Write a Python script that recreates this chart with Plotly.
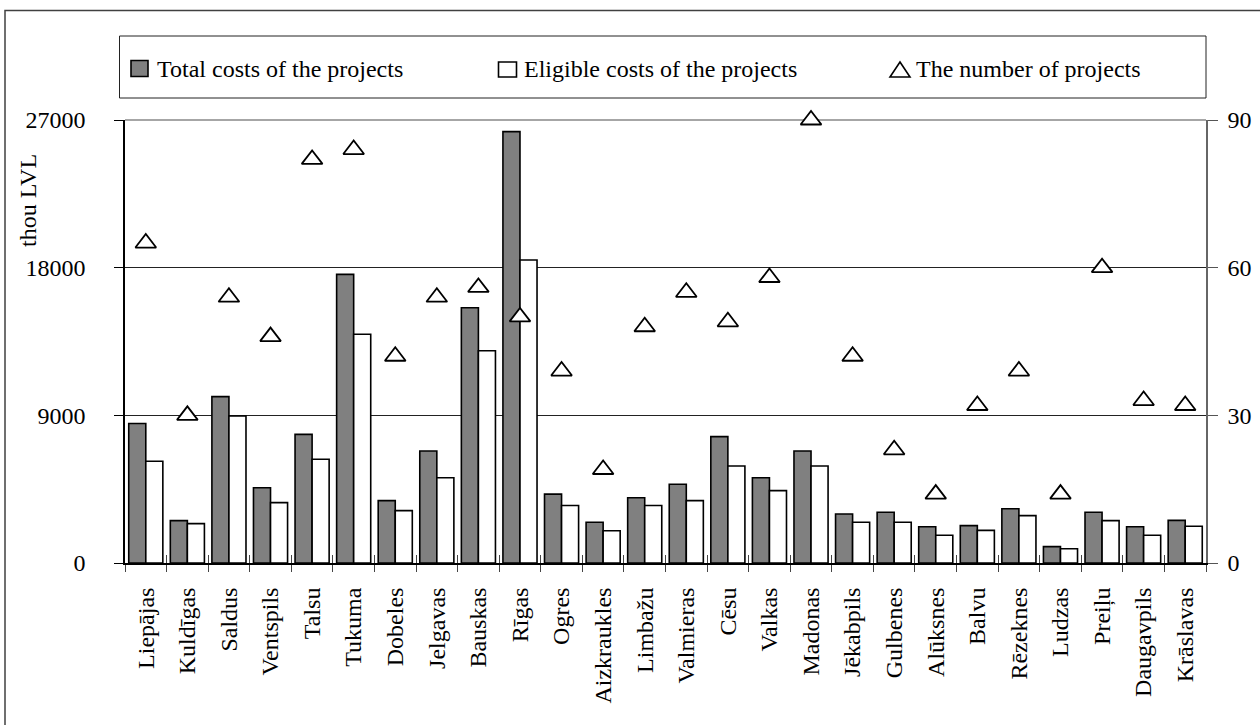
import plotly.graph_objects as go

# Districts (regions of Latvia)
districts = ["Liepājas", "Kuldīgas", "Saldus", "Ventspils", "Talsu", "Tukuma", "Dobeles",
             "Jelgavas", "Bauskas", "Rīgas", "Ogres", "Aizkraukles", "Limbažu", "Valmieras",
             "Cēsu", "Valkas", "Madonas", "Jēkabpils", "Gulbenes", "Alūksnes", "Balvu",
             "Rēzeknes", "Ludzas", "Preiļu", "Daugavpils", "Krāslavas"]

# thou LVL
total_costs = [8500, 2580, 10140, 4590, 7840, 17590, 3800, 6830, 15560, 26290, 4200, 2480, 3980,
               4800, 7700, 5200, 6830, 2990, 3090, 2210, 2280, 3310, 1000, 3090, 2210, 2600]
eligible_costs = [6200, 2400, 8960, 3680, 6320, 13940, 3190, 5200, 12940, 18470, 3500, 1970, 3500,
                  3800, 5910, 4410, 5910, 2480, 2480, 1690, 1990, 2890, 870, 2580, 1690, 2240]
# number of projects (right axis)
n_projects = [65, 30, 54, 46, 82, 84, 42, 54, 56, 50, 39, 19, 48, 55, 49, 58, 90, 42, 23, 14, 32,
              39, 14, 60, 33, 32]

left_ticks = [0, 9000, 18000, 27000]
right_ticks = [0, 30, 60, 90]

FONT = "Liberation Serif"
FS = 24
W, H = 1260, 725
L, R, T, B = 125, 1206, 120, 563


def px(x):
    return (x - L) / (R - L)


def py(y):
    return (B - y) / (B - T)


fig = go.Figure()
fig.add_trace(go.Bar(x=districts, y=total_costs, name="Total costs of the projects",
                     marker=dict(color="#808080", line=dict(color="black", width=1.6))))
fig.add_trace(go.Bar(x=districts, y=eligible_costs, name="Eligible costs of the projects",
                     marker=dict(color="white", line=dict(color="black", width=1.6))))
fig.add_trace(go.Scatter(x=districts, y=n_projects, yaxis="y2", mode="markers",
                         name="The number of projects", cliponaxis=False,
                         marker=dict(symbol="triangle-up", size=18, color="white",
                                     line=dict(color="black", width=1.8))))
# helper trace so the boundary tick axis is drawn
fig.add_trace(go.Scatter(x=[None], y=[None], xaxis="x2", showlegend=False, hoverinfo="skip"))

n = len(districts)
fig.update_layout(
    width=W, height=H,
    margin=dict(l=L, r=W - R, t=T, b=H - B, autoexpand=False),
    paper_bgcolor="white", plot_bgcolor="white",
    font=dict(family=FONT, size=FS, color="black"),
    barmode="group", bargap=0.18, bargroupgap=0,
    showlegend=False,
    xaxis=dict(type="category", range=[-0.5, n - 0.5], tickangle=-90, ticks="outside",
               tickson="boundaries", ticklen=7, tickcolor="#444", showline=True,
               linecolor="black", linewidth=2, showgrid=False, ticklabelstandoff=13,
               tickfont=dict(size=FS), automargin=False),
    xaxis2=dict(overlaying="x", anchor="y", range=[-0.5, n - 0.5],
                tickvals=[i - 0.5 for i in range(n + 1)], ticks="inside", ticklen=8,
                tickcolor="#444", showticklabels=False, showgrid=False, zeroline=False,
                showline=False, automargin=False),
    yaxis=dict(range=[0, 27000], tickvals=left_ticks, tickformat="d", ticks="outside",
               ticklen=9, tickcolor="black", showline=True, linecolor="black", linewidth=1.5,
               showgrid=True, gridcolor="#222", gridwidth=1, zeroline=False,
               ticklabelstandoff=24, tickfont=dict(size=FS), automargin=False),
    yaxis2=dict(overlaying="y", side="right", range=[0, 90], tickvals=right_ticks,
                ticks="outside", ticklen=10, tickcolor="#555", showline=True,
                linecolor="#666", linewidth=1.5, showgrid=False, zeroline=False,
                ticklabelstandoff=5, tickfont=dict(size=FS), automargin=False),
)

shapes = []
# outer frame
shapes.append(dict(type="rect", xref="paper", yref="paper", x0=px(5), x1=px(1264),
                   y0=py(729), y1=py(10.5), line=dict(color="#404040", width=1.5)))
# top edge of the plot area
shapes.append(dict(type="line", xref="paper", yref="paper", x0=0, x1=1, y0=1, y1=1,
                   line=dict(color="#888", width=1.5), layer="below"))
# legend box
shapes.append(dict(type="rect", xref="paper", yref="paper", x0=px(119.5), x1=px(1206),
                   y0=py(98), y1=py(36), line=dict(color="#222", width=1)))
# legend symbols
shapes.append(dict(type="rect", xref="paper", yref="paper", x0=px(131), x1=px(148),
                   y0=py(76.5), y1=py(60.5), fillcolor="#808080",
                   line=dict(color="black", width=1.6)))
shapes.append(dict(type="rect", xref="paper", yref="paper", x0=px(498.5), x1=px(516.5),
                   y0=py(77), y1=py(62), fillcolor="white",
                   line=dict(color="black", width=1.6)))
tri = "M {:.5f},{:.5f} L {:.5f},{:.5f} L {:.5f},{:.5f} Z".format(
    px(890), py(77), px(910), py(77), px(900), py(62))
shapes.append(dict(type="path", xref="paper", yref="paper", path=tri, fillcolor="white",
                   line=dict(color="black", width=1.6)))
fig.update_layout(shapes=shapes)

annotations = [
    dict(text="Total costs of the projects", x=px(155), y=py(69)),
    dict(text="Eligible costs of the projects", x=px(522), y=py(69)),
    dict(text="The number of projects", x=px(914), y=py(69)),
]
for a in annotations:
    a.update(xref="paper", yref="paper", xanchor="left", yanchor="middle", showarrow=False,
             font=dict(family=FONT, size=FS, color="black"))
annotations.append(dict(text="thou LVL", textangle=-90, x=px(28), y=py(201), xref="paper",
                        yref="paper", xanchor="center", yanchor="middle", showarrow=False,
                        font=dict(family=FONT, size=FS, color="black")))
fig.update_layout(annotations=annotations)

fig.write_html("out.html")
